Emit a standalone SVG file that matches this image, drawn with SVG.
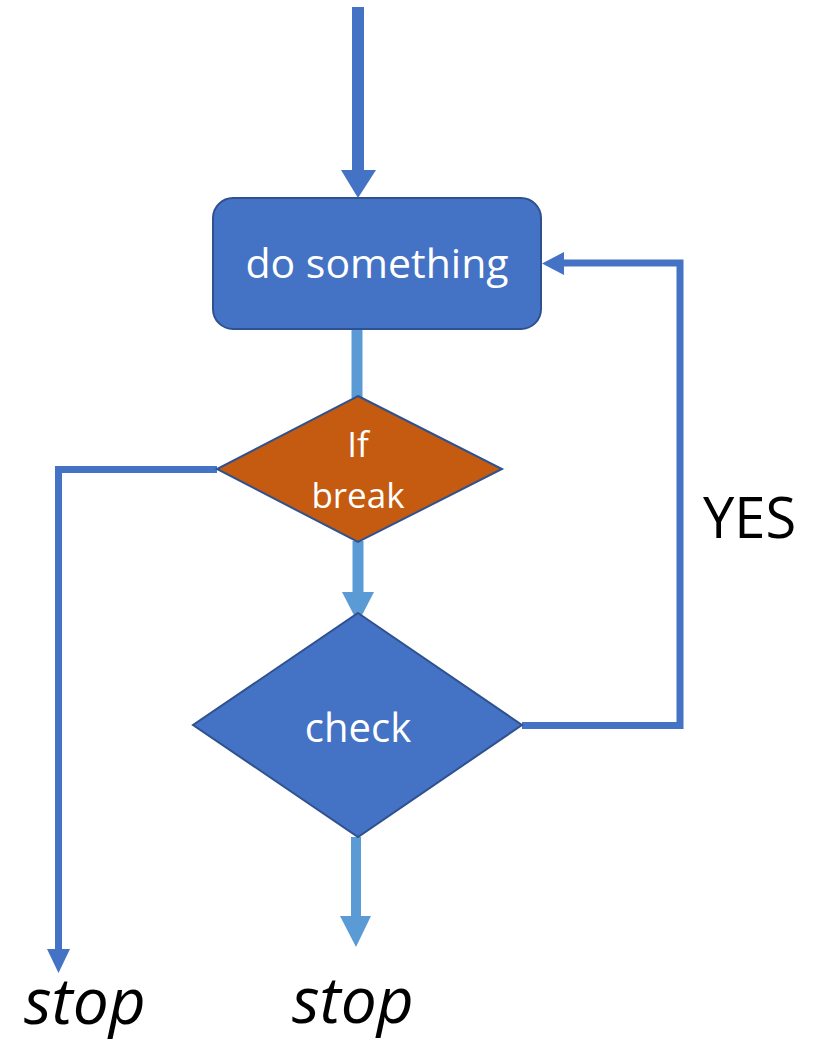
<svg xmlns="http://www.w3.org/2000/svg" width="820" height="1044" viewBox="0 0 820 1044">
<style>
.dk{fill:none;stroke:#4472C4}
.lt{fill:none;stroke:#5B9BD5}
.hdk{fill:#4472C4}
.hlt{fill:#5B9BD5}
.node{stroke:#2F528F;stroke-width:2}
.wt{fill:#FFFFFF;font-family:"Open Sans","Liberation Sans",sans-serif;text-anchor:middle}
.bk{fill:#000000;font-family:"Open Sans","Liberation Sans",sans-serif}
.stop{font-size:64px;font-style:italic}
</style>
<rect width="820" height="1044" fill="#FFFFFF"/>
<g id="connectors">
  <line class="dk" x1="358" y1="7" x2="358" y2="172" stroke-width="12"/>
  <polygon class="hdk" points="341,170 376,170 358,198"/>
  <line class="lt" x1="357" y1="329" x2="357" y2="398" stroke-width="11"/>
  <line class="lt" x1="358" y1="541" x2="358" y2="594" stroke-width="11"/>
  <polygon class="hlt" points="342,592 374,592 358,623"/>
  <polyline class="dk" points="217,469.5 58.5,469.5 58.5,951" stroke-width="7"/>
  <polygon class="hdk" points="47,949 70,949 58.5,973"/>
  <polyline class="dk" points="522,725.5 680,725.5 680,263 562,263" stroke-width="7"/>
  <polygon class="hdk" points="564,252 564,275 542,263.5"/>
  <line class="lt" x1="356" y1="837" x2="356" y2="918" stroke-width="10"/>
  <polygon class="hlt" points="340,916 371,916 356,947"/>
</g>
<g id="do-something">
  <rect class="node" x="213" y="198" width="328" height="131" rx="20" fill="#4472C4"/>
  <text class="wt" x="377" y="278" font-size="41">do something</text>
</g>
<g id="if-break">
  <polygon class="node" points="358,396 502,469 358,542 217,469" fill="#C55A11" stroke-width="1.5"/>
  <text class="wt" x="358" y="457" font-size="35">If</text>
  <text class="wt" x="358" y="508" font-size="35">break</text>
</g>
<g id="check">
  <polygon class="node" points="358,613 522,725 358,837 193,725" fill="#4472C4" stroke-width="1.5"/>
  <text class="wt" x="358" y="742" font-size="40">check</text>
</g>
<g id="labels">
  <text class="bk" x="703" y="538" font-size="56">YES</text>
  <text class="bk stop" x="24" y="1024">stop</text>
  <text class="bk stop" x="292" y="1023">stop</text>
</g>
</svg>
